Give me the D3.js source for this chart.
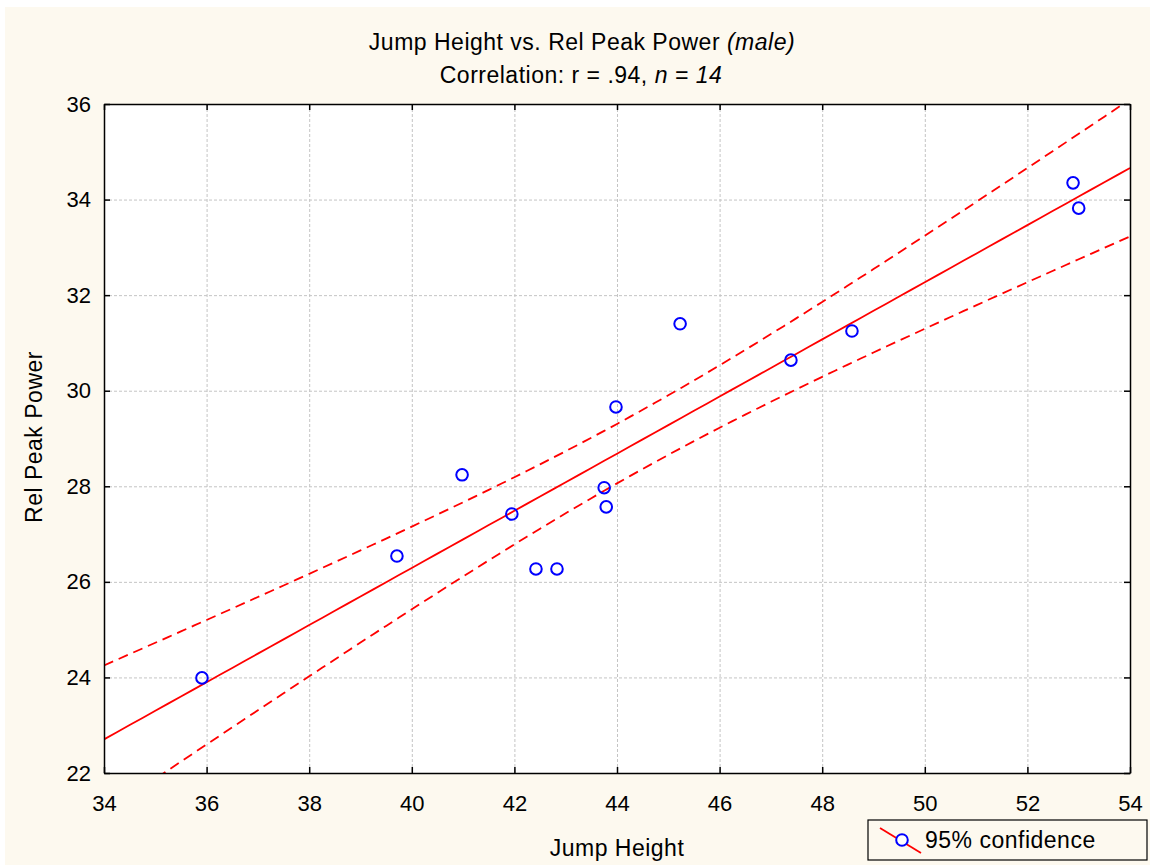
<!DOCTYPE html>
<html>
<head>
<meta charset="utf-8">
<script src="https://cdn.jsdelivr.net/npm/d3@7"></script>
<style>
  body { margin: 0; background: #fff; }
  svg { display: block; font-family: "Liberation Sans", Arial, sans-serif; }
  .grid line { stroke: #c4c4c4; stroke-dasharray: 3,2; stroke-width: 1; }
  .grid path { display: none; }
  .axis text { font-size: 22px; fill: #000; }
  .label { font-size: 23px; letter-spacing: 0.5px; }
</style>
</head>
<body>
<script>
// data
const jumpHeight   = [35.91, 39.71, 40.98, 41.95, 42.42, 42.83, 43.75, 43.79, 43.98, 45.23, 47.39, 48.58, 52.89, 53.00];
const relPeakPower = [23.99, 26.54, 28.24, 27.42, 26.27, 26.27, 27.97, 27.57, 29.66, 31.40, 30.64, 31.25, 34.35, 33.82];
const xTicks = [34, 36, 38, 40, 42, 44, 46, 48, 50, 52, 54];
const yTicks = [22, 24, 26, 28, 30, 32, 34, 36];

const W = 1150, H = 865;
const margin = {top:104, right:20, bottom:92, left:104};
const plotW = 1130 - margin.left;
const plotH = 773 - margin.top;

const svg = d3.select('body').append('svg').attr('width', W).attr('height', H);
svg.append('rect').attr('x', 5).attr('y', 7).attr('width', W - 5).attr('height', H - 7).attr('fill', '#fdf9ef');

const g = svg.append('g').attr('transform', `translate(${margin.left},${margin.top})`);

const x = d3.scaleLinear().domain([34, 54]).range([0, plotW]);
const y = d3.scaleLinear().domain([22, 36]).range([plotH, 0]);

g.append('rect').attr('width', plotW).attr('height', plotH).attr('fill', '#fff');

// grid
g.append('g').attr('class', 'grid')
  .call(d3.axisBottom(x).tickValues(xTicks).tickSize(plotH).tickFormat(''));
g.append('g').attr('class', 'grid')
  .call(d3.axisLeft(y).tickValues(yTicks).tickSize(-plotW).tickFormat(''));

// regression + 95% confidence band (mean response)
const pts = jumpHeight.map((v, i) => ({x: v, y: relPeakPower[i]}));
const n = pts.length;
const mx = d3.mean(pts, d => d.x), my = d3.mean(pts, d => d.y);
const sxx = d3.sum(pts, d => (d.x - mx) ** 2);
const sxy = d3.sum(pts, d => (d.x - mx) * (d.y - my));
const b = sxy / sxx, a = my - b * mx;
const sse = d3.sum(pts, d => (d.y - (a + b * d.x)) ** 2);
const s = Math.sqrt(sse / (n - 2));
const tcrit = 2.179; // t(0.975, 12)
const band = xx => tcrit * s * Math.sqrt(1 / n + (xx - mx) ** 2 / sxx);

const xs = d3.range(34, 54.001, 0.25);
g.append('clipPath').attr('id', 'clip').append('rect').attr('width', plotW).attr('height', plotH);
const lines = g.append('g').attr('clip-path', 'url(#clip)');
const line = d3.line().x(d => x(d[0])).y(d => y(d[1]));

lines.append('path').datum(xs.map(v => [v, a + b * v]))
  .attr('d', line).attr('fill', 'none').attr('stroke', '#ff0000').attr('stroke-width', 1.8);
[1, -1].forEach(sg => {
  lines.append('path').datum(xs.map(v => [v, a + b * v + sg * band(v)]))
    .attr('d', line).attr('fill', 'none').attr('stroke', '#ff0000')
    .attr('stroke-width', 1.8).attr('stroke-dasharray', '10,6');
});

// points
g.append('g').selectAll('circle').data(pts).join('circle')
  .attr('cx', d => x(d.x)).attr('cy', d => y(d.y)).attr('r', 5.8)
  .attr('fill', 'none').attr('stroke', '#0000ff').attr('stroke-width', 2);

// axes with inward ticks
const ax = (gen) => g.append('g').attr('class', 'axis').call(gen)
  .call(s => s.select('.domain').attr('stroke', '#000').attr('stroke-width', 1.5))
  .call(s => s.selectAll('.tick line').attr('stroke', '#000').attr('stroke-width', 1.5));

ax(d3.axisBottom(x).tickValues(xTicks).tickSizeInner(-6).tickSizeOuter(0).tickPadding(22))
  .attr('transform', `translate(0,${plotH})`);
ax(d3.axisLeft(y).tickValues(yTicks).tickSizeInner(-6).tickSizeOuter(0).tickPadding(13));
ax(d3.axisTop(x).tickValues(xTicks).tickSizeInner(-6).tickSizeOuter(0).tickFormat(''));
ax(d3.axisRight(y).tickValues(yTicks).tickSizeInner(-6).tickSizeOuter(0).tickFormat(''))
  .attr('transform', `translate(${plotW},0)`);

// titles
const t1 = svg.append('text').attr('class', 'label').attr('x', 582).attr('y', 50).attr('text-anchor', 'middle');
t1.append('tspan').text('Jump Height vs. Rel Peak Power ');
t1.append('tspan').attr('font-style', 'italic').text('(male)');
const t2 = svg.append('text').attr('class', 'label').attr('x', 581).attr('y', 83).attr('text-anchor', 'middle');
t2.append('tspan').text('Correlation: r = .94,  ');
t2.append('tspan').attr('font-style', 'italic').text('n = 14');

svg.append('text').attr('class', 'label').attr('x', 617).attr('y', 856).attr('text-anchor', 'middle').text('Jump Height');
svg.append('text').attr('class', 'label').attr('transform', 'translate(42,437) rotate(-90)').attr('text-anchor', 'middle')
  .text('Rel Peak Power');

// legend
const lg = svg.append('g').attr('transform', 'translate(868,820)');
lg.append('rect').attr('width', 279).attr('height', 40).attr('fill', 'none').attr('stroke', '#000').attr('stroke-width', 1.2);
lg.append('line').attr('x1', 12).attr('y1', 8).attr('x2', 53).attr('y2', 33).attr('stroke', '#ff0000').attr('stroke-width', 1.8);
lg.append('circle').attr('cx', 34).attr('cy', 20).attr('r', 5.8).attr('fill', '#fff').attr('stroke', '#0000ff').attr('stroke-width', 2);
lg.append('text').attr('class', 'label').attr('x', 57).attr('y', 28).text('95% confidence');
</script>
</body>
</html>
